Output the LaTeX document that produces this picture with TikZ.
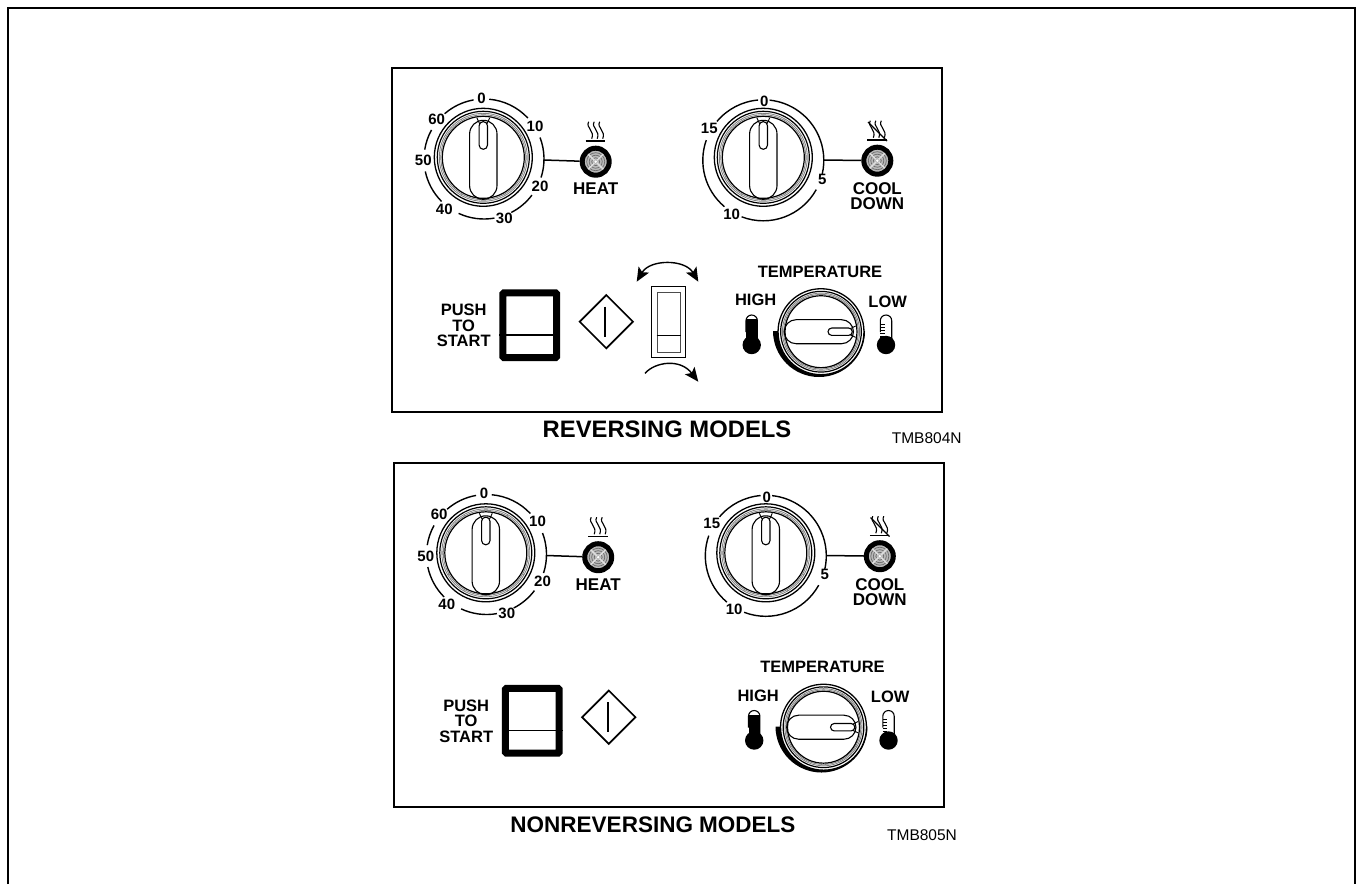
\documentclass[tikz,border=0pt]{standalone}
\usepackage{fontspec}
\setmainfont{Liberation Sans}
\usetikzlibrary{shapes.geometric,arrows.meta}
\tikzset{
    every pic/.style={yscale=-1},
    panelbox/.style={draw, line width=2.5, inner sep=0, minimum width=#1, minimum height=344},
    numlabel/.style={inner sep=0, font=\fontsize{15}{15}\selectfont\bfseries},
    tag/.style={inner sep=0, align=center, font=\fontsize{16.5}{15.5}\selectfont\bfseries},
    heading/.style={inner sep=0, font=\fontsize{#1}{#1}\selectfont\bfseries},
    code/.style={inner sep=0, font=\fontsize{15.5}{15.5}\selectfont},
    lamp/.style={circle, draw, line width=5, fill=gray!55, minimum size=27, inner sep=0},
    dialline/.style={line width=1.4},
    swing/.style={line width=1.4, {Stealth[length=14,width=12,inset=3]}-{Stealth[length=14,width=12,inset=3]}},
    swingone/.style={line width=1.4, -{Stealth[length=14,width=12,inset=3]}},
    % rotary knob, pointer up
    knob/.pic={
        \draw [line width=1.3, fill=white] (0, 0) circle (49);
        \draw [line width=1.2] (0, 0) circle (46);
        \draw [line width=0.8, gray] (0, 0) circle (44);
        \draw [line width=0.8, gray] (0, 0) circle (42.5);
        \foreach \a in {0, 30, ..., 330}
            \draw [line width=0.7, gray] (\a:42.5) -- (\a:44);
        \foreach \a in {-90, 0, 90, 180}
            \draw [line width=1.2, gray!70] (\a-3:43.2) arc [start angle=\a-3, end angle=\a+3, radius=43.2];
        \draw [line width=1.2] (0, 0) circle (41);
        % grip
        \draw [line width=1.1] (-13.7, -23.3) arc [start angle=180, end angle=360, radius=13.7]
            -- (13.7, 28.3) arc [start angle=0, end angle=180, radius=13.7] -- cycle;
        % pointer
        \draw [line width=1.1, fill=white] (-4.2, -31.5) arc [start angle=180, end angle=360, radius=4.2]
            -- (4.2, -12.2) arc [start angle=0, end angle=180, radius=4.2] -- cycle;
        \draw [line width=0.9] (-6.5, -39.5) -- (-3.6, -33.5) (6.5, -39.5) -- (3.6, -33.5);
    },
    lampface/.pic={
        \foreach \r in {4, 6.5, 9}
            \draw [line width=0.7, gray!85!black] (0, 0) circle (\r);
        \foreach \a in {45, 135, 225, 315}
            \draw [line width=1.5, gray!25] (\a:2) -- (\a:10.5);
        \fill [white] (0, 0) circle (1.3);
    },
    % three rising waves over a base line
    waves/.pic={
        \foreach \d in {-5.5, 0, 5.5}
            \draw [line width=1.1] (\d-1.5, -40) .. controls (\d-5, -34) and (\d+5, -31) .. (\d+1.5, -23);
        \draw [line width=1.4] (-10, -20.7) -- (9.5, -20.7);
    },
    thermo/.pic={
        \draw [line width=1.1] (-5.7, -13) -- (-5.7, -24.3) arc [start angle=180, end angle=360, radius=5.7] -- (5.7, -5);
        \fill (0, 0) circle (9.2);
    }
}
% dials and labels common to both panels
\newcommand{\panelface}{
    % timer dial
    \pic at (483.3, 157.3) {knob};
    \foreach \t/\x/\y in {0/-1.7/-59, 10/51.7/-31.3, 20/56.7/28.7, 30/21/61, 40/-39/52, 50/-60/3.3, 60/-46.7/-38}
        \node (heat\t) [numlabel] at (483.3+\x, 157.3+\y) {\t};
    \foreach \a/\b in {-85/-43, -21/18, 37/63, 80/115, 135/168, 189/209, 229/260}
        \draw [dialline] (484, 159)+(\a:60) arc [start angle=\a, end angle=\b, radius=60];
    \coordinate (heatend) at (544, 160);
    \node (heatlamp) [lamp] at (595.7, 161.7) {};
    \draw [line width=1.5] (heatend) -- (heatlamp);
    \pic at (595.7, 161.7) {lampface};
    \pic at (595.7, 161.7) {waves};
    \node (heatname) [tag, font=\fontsize{17}{15}\selectfont\bfseries] at (595.7, 189) {HEAT};
    % cool down dial
    \pic at (763.3, 157.3) {knob};
    \foreach \t/\x/\y in {0/1/-55.7, 5/59/22, 10/-31.7/56.7, 15/-54/-29}
        \node (cool\t) [numlabel] at (763.3+\x, 157.3+\y) {\t};
    \foreach \a/\b in {-84/13, 29/111, 130/199.5, 220/265}
        \draw [dialline] (763.3, 160.3)+(\a:60.5) arc [start angle=\a, end angle=\b, radius=60.5];
    \coordinate (coolend) at (824, 160);
    \node (coollamp) [lamp] at (877.3, 160.7) {};
    \draw [line width=1.5] (coolend) -- (coollamp);
    \pic at (877.3, 160.7) {lampface};
    \pic at (877.3, 160.7) {waves};
    \draw [line width=1.3] (868, 122) -- (887, 141);
    \node (coolname) [tag, font=\fontsize{17}{15}\selectfont\bfseries] at (877.3, 196.5) {COOL\\DOWN};
    % start button
    \node (pushname) [tag] at (463.7, 325.7) {PUSH\\TO\\START};
    \node (pushbtn) [draw, line width=7, rounded corners=1, inner sep=0, minimum width=53.7, minimum height=64.7] at (529.7, 325.2) {};
    \draw [line width=1.1] (pushbtn.west |- 0, 335) -- (pushbtn.east |- 0, 335);
    \node (startmark) [diamond, draw, line width=1.7, inner sep=0, minimum width=54, minimum height=54] at (606.3, 321.7) {};
    \draw [line width=2] (605.3, 306.7) -- (605.3, 336.7);
    % temperature dial
    \node (tempname) [heading=16.5] at (820, 271.7) {TEMPERATURE};
    \node (highname) [tag] at (755.7, 300) {HIGH};
    \node (lowname) [tag] at (887.7, 301.7) {LOW};
    \fill (773, 331) arc [start angle=180, end angle=0, radius=46] -- cycle;
    \pic [scale=0.877, rotate=-90] at (821, 331.7) {knob};
    \pic at (751.7, 345) {thermo};
    \fill (746, 319) rectangle (757.4, 345);
    \pic at (886, 345) {thermo};
    \fill (880.3, 337) rectangle (891.7, 345);
    \foreach \y in {324, 327, ..., 336}
        \draw [line width=0.6] (880.3, \y) -- (884.5, \y);
}
\begin{document}
\begin{tikzpicture}[yscale=-1, x=1pt, y=1pt]
    \useasboundingbox (0, 0) rectangle (1356, 884);
    \clip (0, 0) rectangle (1356, 884);
    % open sheet frame
    \draw [line width=2] (7.5, 884) -- (7.5, 7.5) -- (1355, 7.5) -- (1355, 884);
    % upper panel
    \node (toppanel) [panelbox=550] at (667, 240) {};
    \begin{scope}[name prefix=top-]
        \panelface
    \end{scope}
    % rocker switch
    \node (rocker) [draw, line width=1.3, inner sep=0, minimum width=34, minimum height=71] at (668.7, 322.2) {};
    \node (rockerin) [draw=black!70, line width=1.3, inner sep=0, minimum width=23, minimum height=60] at (668.8, 322.3) {};
    \draw [line width=1.1] (rockerin.west |- 0, 335.7) -- (rockerin.east |- 0, 335.7);
    \coordinate (swingl) at (636.7, 281.7);
    \coordinate (swingr) at (698.3, 281.7);
    \coordinate (dropl) at (645, 373.3);
    \coordinate (dropr) at (698.3, 381.7);
    \draw [swing] (swingl) .. controls (650, 259) and (685, 259) .. (swingr);
    \draw [swingone] (dropl) .. controls (655, 362) and (680, 358) .. (dropr);
    \node (topname) [heading=23.8] at (667, 429) {REVERSING MODELS};
    \node (topcode) [code] at (926.7, 438) {TMB804N};
    % lower panel
    \node (lowpanel) [panelbox=550] at (669, 635) {};
    \begin{scope}[shift={(2.5, 395.5)}, name prefix=low-]
        \panelface
    \end{scope}
    \node (lowname) [heading=22.5] at (653, 825) {NONREVERSING MODELS};
    \node (lowcode) [code] at (922, 835) {TMB805N};
\end{tikzpicture}
\end{document}
